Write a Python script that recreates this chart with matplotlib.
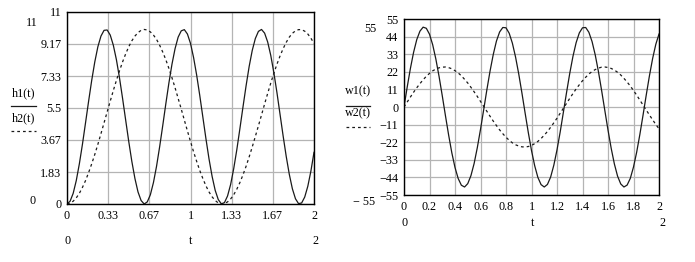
import matplotlib
matplotlib.use('Agg')
import matplotlib.pyplot as plt
from matplotlib.lines import Line2D

# ---------------- data ----------------
t = [0.000, 0.025, 0.050, 0.075, 0.100, 0.125, 0.150, 0.175, 0.200, 0.225,
     0.250, 0.275, 0.300, 0.325, 0.350, 0.375, 0.400, 0.425, 0.450, 0.475,
     0.500, 0.525, 0.550, 0.575, 0.600, 0.625, 0.650, 0.675, 0.700, 0.725,
     0.750, 0.775, 0.800, 0.825, 0.850, 0.875, 0.900, 0.925, 0.950, 0.975,
     1.000, 1.025, 1.050, 1.075, 1.100, 1.125, 1.150, 1.175, 1.200, 1.225,
     1.250, 1.275, 1.300, 1.325, 1.350, 1.375, 1.400, 1.425, 1.450, 1.475,
     1.500, 1.525, 1.550, 1.575, 1.600, 1.625, 1.650, 1.675, 1.700, 1.725,
     1.750, 1.775, 1.800, 1.825, 1.850, 1.875, 1.900, 1.925, 1.950, 1.975,
     2.000]

h1 = [0.00, 0.16, 0.61, 1.34, 2.30, 3.42, 4.65, 5.89, 7.08, 8.14,
      9.01, 9.62, 9.95, 9.97, 9.68, 9.10, 8.27, 7.23, 6.05, 4.81,
      3.58, 2.44, 1.46, 0.69, 0.20, 0.00, 0.12, 0.53, 1.23, 2.16,
      3.27, 4.48, 5.73, 6.93, 8.01, 8.90, 9.56, 9.92, 9.99, 9.74,
      9.20, 8.39, 7.38, 6.22, 4.98, 3.74, 2.58, 1.58, 0.78, 0.25,
      0.01, 0.08, 0.46, 1.12, 2.03, 3.11, 4.32, 5.56, 6.77, 7.88,
      8.80, 9.48, 9.89, 10.00, 9.79, 9.28, 8.51, 7.52, 6.38, 5.14,
      3.90, 2.73, 1.70, 0.87, 0.30, 0.02, 0.06, 0.40, 1.02, 1.89,
      2.96]

h2 = [0.00, 0.04, 0.16, 0.35, 0.61, 0.95, 1.34, 1.80, 2.30, 2.84,
      3.42, 4.03, 4.65, 5.27, 5.89, 6.50, 7.08, 7.63, 8.14, 8.60,
      9.01, 9.35, 9.62, 9.82, 9.95, 10.00, 9.97, 9.86, 9.68, 9.43,
      9.10, 8.71, 8.27, 7.77, 7.23, 6.66, 6.05, 5.44, 4.81, 4.19,
      3.58, 2.99, 2.44, 1.92, 1.46, 1.04, 0.69, 0.41, 0.20, 0.06,
      0.00, 0.02, 0.12, 0.29, 0.53, 0.85, 1.23, 1.67, 2.16, 2.70,
      3.27, 3.87, 4.48, 5.10, 5.73, 6.34, 6.93, 7.49, 8.01, 8.48,
      8.90, 9.26, 9.56, 9.78, 9.92, 9.99, 9.99, 9.90, 9.74, 9.50,
      9.20]

w1 = [0.0, 12.4, 24.0, 34.1, 42.1, 47.4, 49.9, 49.2, 45.5, 38.9,
      29.9, 19.1, 7.1, -5.4, -17.5, -28.6, -37.8, -44.7, -48.9, -50.0,
      -47.9, -42.9, -35.3, -25.4, -14.0, -1.7, 10.8, 22.5, 32.8, 41.2,
      46.9, 49.7, 49.5, 46.1, 39.9, 31.2, 20.6, 8.7, -3.8, -16.0,
      -27.2, -36.7, -44.0, -48.5, -50.0, -48.4, -43.8, -36.4, -26.8, -15.6,
      -3.3, 9.1, 21.0, 31.6, 40.2, 46.3, 49.5, 49.7, 46.7, 40.9,
      32.5, 22.1, 10.3, -2.1, -14.4, -25.8, -35.6, -43.2, -48.1, -50.0,
      -48.8, -44.6, -37.5, -28.2, -17.1, -5.0, 7.5, 19.5, 30.3, 39.2,
      45.6]

w2 = [0.0, 3.1, 6.2, 9.2, 12.0, 14.6, 17.0, 19.2, 21.0, 22.6,
      23.7, 24.5, 24.9, 25.0, 24.6, 23.9, 22.7, 21.3, 19.5, 17.3,
      15.0, 12.3, 9.5, 6.6, 3.5, 0.4, -2.7, -5.8, -8.8, -11.6,
      -14.3, -16.7, -18.9, -20.8, -22.4, -23.6, -24.4, -24.9, -25.0, -24.7,
      -24.0, -22.9, -21.5, -19.7, -17.6, -15.3, -12.7, -9.9, -7.0, -3.9,
      -0.8, 2.3, 5.4, 8.4, 11.3, 13.9, 16.4, 18.6, 20.6, 22.2,
      23.4, 24.3, 24.9, 25.0, 24.7, 24.1, 23.1, 21.7, 20.0, 17.9,
      15.6, 13.1, 10.3, 7.4, 4.3, 1.2, -1.9, -5.0, -8.0, -10.9,
      -13.6]

h_xticks = [0, 0.3333, 0.6667, 1, 1.3333, 1.6667, 2]
h_xlabels = ["0", "0.33", "0.67", "1", "1.33", "1.67", "2"]
h_yticks = [0, 1.8333, 3.6667, 5.5, 7.3333, 9.1667, 11]
h_ylabels = ["0", "1.83", "3.67", "5.5", "7.33", "9.17", "11"]

w_xticks = [0, 0.2, 0.4, 0.6, 0.8, 1.0, 1.2, 1.4, 1.6, 1.8, 2.0]
w_xlabels = ["0", "0.2", "0.4", "0.6", "0.8", "1", "1.2", "1.4", "1.6", "1.8", "2"]
w_yticks = [-55, -44, -33, -22, -11, 0, 11, 22, 33, 44, 55]
w_ylabels = ["\u221255", "\u221244", "\u221233", "\u221222", "\u221211", "0",
             "11", "22", "33", "44", "55"]

# ---------------- layout ----------------
W, H = 695, 262
FAM = ['Liberation Serif', 'DejaVu Serif']
FS = 8.7
LC = '#1a1a1a'
GC = '#b4b4b4'
DASH = (0, (2.2, 2.4))

fig = plt.figure(figsize=(W / 100, H / 100), dpi=100)
fig.patch.set_facecolor('white')


def px_axes(x0, y0, x1, y1):
    return fig.add_axes([x0 / W, 1 - y1 / H, (x1 - x0) / W, (y1 - y0) / H])


def ftxt(x, y, s, ha='center', va='center'):
    fig.text(x / W, 1 - y / H, s, ha=ha, va=va, fontsize=FS, family=FAM, color='black')


def fline(x0, x1, y, ls='-'):
    fig.add_artist(Line2D([x0 / W, x1 / W], [1 - y / H, 1 - y / H],
                          transform=fig.transFigure, color=LC, lw=0.9, linestyle=ls))


def style(ax, xt, xl, yt, yl, xlim, ylim):
    ax.set_xlim(*xlim)
    ax.set_ylim(*ylim)
    ax.set_xticks(xt)
    ax.set_xticklabels(xl)
    ax.set_yticks(yt)
    ax.set_yticklabels(yl)
    ax.tick_params(length=0, pad=4, labelsize=FS)
    for lab in ax.get_xticklabels() + ax.get_yticklabels():
        lab.set_family(FAM)
    ax.grid(True, color=GC, lw=0.9)
    ax.set_axisbelow(True)
    for s in ax.spines.values():
        s.set_color('black')
        s.set_linewidth(1.0)


# left panel
axL = px_axes(67, 12, 314, 204)
axL.plot(t, h1, color=LC, lw=0.9)
axL.plot(t, h2, color=LC, lw=0.9, linestyle=DASH)
style(axL, h_xticks, h_xlabels, h_yticks, h_ylabels, (0, 2), (0, 11))

ftxt(32, 23, "11")
ftxt(33, 201, "0")
ftxt(24, 93, "h1(t)")
fline(11, 36, 106)
ftxt(24, 118, "h2(t)")
fline(11, 36, 131, ls=(0, (2.2, 2.4)))
ftxt(68, 241, "0")
ftxt(191, 241, "t")
ftxt(315, 241, "2")

# right panel
axR = px_axes(404, 19, 659, 195)
axR.plot(t, w1, color=LC, lw=0.9)
axR.plot(t, w2, color=LC, lw=0.9, linestyle=DASH)
style(axR, w_xticks, w_xlabels, w_yticks, w_ylabels, (0, 2), (-55, 55))

ftxt(370, 29, "55")
ftxt(375, 202, "\u2212 55", ha='right')
ftxt(358, 91, "w1(t)")
fline(346, 370, 106)
ftxt(358, 113, "w2(t)")
fline(346, 370, 127, ls=(0, (2.2, 2.4)))
ftxt(405, 223, "0")
ftxt(533, 223, "t")
ftxt(662, 223, "2")

fig.savefig('out.png', dpi=100, facecolor='white')
